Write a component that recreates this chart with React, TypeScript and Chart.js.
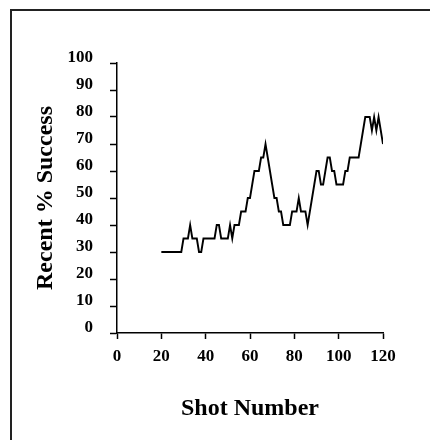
import React, { useEffect, useRef } from "react";
import { Chart, registerables } from "chart.js";

Chart.register(...registerables);

const shots: number[] = [
  20, 21, 22, 23, 24, 25, 26, 27, 28, 29,
  30, 31, 32, 33, 34, 35, 36, 37, 38, 39,
  40, 41, 42, 43, 44, 45, 46, 47, 48, 49,
  50, 51, 52, 53, 54, 55, 56, 57, 58, 59,
  60, 61, 62, 63, 64, 65, 66, 67, 68, 69,
  70, 71, 72, 73, 74, 75, 76, 77, 78, 79,
  80, 81, 82, 83, 84, 85, 86, 87, 88, 89,
  90, 91, 92, 93, 94, 95, 96, 97, 98, 99,
  100, 101, 102, 103, 104, 105, 106, 107, 108, 109,
  110, 111, 112, 113, 114, 115, 116, 117, 118, 119, 120,
];

const success: number[] = [
  30, 30, 30, 30, 30, 30, 30, 30, 30, 30,
  35, 35, 35, 40, 35, 35, 35, 30, 30, 35,
  35, 35, 35, 35, 35, 40, 40, 35, 35, 35,
  35, 40, 35, 40, 40, 40, 45, 45, 45, 50,
  50, 55, 60, 60, 60, 65, 65, 70, 65, 60,
  55, 50, 50, 45, 45, 40, 40, 40, 40, 45,
  45, 45, 50, 45, 45, 45, 40, 45, 50, 55,
  60, 60, 55, 55, 60, 65, 65, 60, 60, 55,
  55, 55, 55, 60, 60, 65, 65, 65, 65, 65,
  70, 75, 80, 80, 80, 75, 80, 75, 80, 75, 70,
];

const xTicks: number[] = [0, 20, 40, 60, 80, 100, 120];
const yTicks: number[] = [0, 10, 20, 30, 40, 50, 60, 70, 80, 90, 100];

const FONT = "'Liberation Serif', 'Times New Roman', serif";

export default function App() {
  const ref = useRef<HTMLCanvasElement | null>(null);

  useEffect(() => {
    if (!ref.current) return;
    const chart = new Chart(ref.current, {
      type: "line",
      data: {
        datasets: [
          {
            data: shots.map((s, i) => ({ x: s, y: success[i] })),
            borderColor: "#000",
            borderWidth: 1.9,
            pointRadius: 0,
            tension: 0,
            fill: false,
          },
        ],
      },
      options: {
        animation: false,
        responsive: false,
        maintainAspectRatio: false,
        layout: { padding: { left: 0, top: 63, right: 47, bottom: 0 } },
        plugins: { legend: { display: false }, tooltip: { enabled: false } },
        scales: {
          x: {
            type: "linear",
            min: 0,
            max: 120,
            afterBuildTicks: (s: any) => {
              s.ticks = xTicks.map((v) => ({ value: v }));
            },
            afterFit: (s: any) => {
              s.height = 107;
            },
            grid: {
              drawOnChartArea: false,
              drawTicks: true,
              tickLength: 6,
              tickColor: "#000",
              tickWidth: 1.5,
            },
            border: { color: "#000", width: 1.5 },
            ticks: {
              color: "#000",
              padding: 7,
              maxRotation: 0,
              font: { family: FONT, size: 17, weight: "bold" },
            },
            title: {
              display: true,
              text: "Shot Number",
              color: "#000",
              font: { family: FONT, size: 24, weight: "bold" },
              padding: { top: 0, bottom: 17 },
            },
          },
          y: {
            type: "linear",
            min: 0,
            max: 100,
            afterBuildTicks: (s: any) => {
              s.ticks = yTicks.map((v) => ({ value: v }));
            },
            afterFit: (s: any) => {
              s.width = 117;
            },
            grid: {
              drawOnChartArea: false,
              drawTicks: true,
              tickLength: 7,
              tickColor: "#000",
              tickWidth: 1.5,
            },
            border: { color: "#000", width: 1.5 },
            ticks: {
              color: "#000",
              padding: 17,
              labelOffset: -5,
              font: { family: FONT, size: 17, weight: "bold" },
            },
            title: {
              display: true,
              text: "Recent % Success",
              color: "#000",
              font: { family: FONT, size: 24, weight: "bold" },
              padding: { top: 31, bottom: 0 },
            },
          },
        },
      },
    });
    return () => chart.destroy();
  }, []);

  return (
    <div style={{ position: "absolute", left: 0, top: 0, width: 430, height: 440, background: "#fff" }}>
      <div
        style={{
          position: "absolute",
          left: 10,
          top: 9,
          width: 420,
          height: 431,
          borderLeft: "2px solid #222",
          borderTop: "2px solid #222",
          boxSizing: "border-box",
        }}
      />
      <canvas ref={ref} width={430} height={440} style={{ position: "absolute", left: 0, top: 0 }} />
    </div>
  );
}
